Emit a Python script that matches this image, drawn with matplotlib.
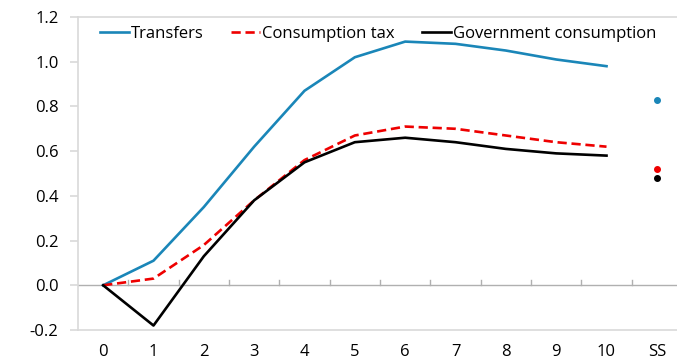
import matplotlib
matplotlib.use("Agg")
import matplotlib.pyplot as plt
import numpy as np

# x categories: periods 0..10 plus steady state
periods = ['0', '1', '2', '3', '4', '5', '6', '7', '8', '9', '10']
ss_label = 'SS'

transfers = [0.0, 0.11, 0.35, 0.62, 0.87, 1.02, 1.09, 1.08, 1.05, 1.01, 0.98]
consumption_tax = [0.0, 0.03, 0.18, 0.38, 0.56, 0.67, 0.71, 0.70, 0.67, 0.64, 0.62]
gov_consumption = [0.0, -0.18, 0.13, 0.38, 0.55, 0.64, 0.66, 0.64, 0.61, 0.59, 0.58]

ss_transfers = 0.83
ss_consumption_tax = 0.52
ss_gov_consumption = 0.48

plt.rcParams['font.family'] = ['Open Sans', 'DejaVu Sans']

fig = plt.figure(figsize=(6.77, 3.64), dpi=100)
ax = fig.add_axes([0.1152, 0.0934, 0.8922, 0.8599])

x = np.arange(len(periods))
x_ss = len(periods)

blue = '#1a86b8'
red = '#ee0000'

ax.plot(x, transfers, color=blue, lw=1.9, label='Transfers')
ax.plot(x, consumption_tax, color=red, lw=1.9, dashes=(3.5, 1.8), label='Consumption tax')
ax.plot(x, gov_consumption, color='black', lw=1.9, label='Government consumption')

ax.plot([x_ss], [ss_transfers], 'o', color=blue, ms=4)
ax.plot([x_ss], [ss_consumption_tax], 'o', color=red, ms=4)
ax.plot([x_ss], [ss_gov_consumption], 'o', color='black', ms=4)

ax.set_xlim(-0.5, x_ss + 0.5)
ax.set_ylim(-0.2, 1.2)

# horizontal axis crossing at zero with tick marks between categories
ax.axhline(0, color='#b0b0b0', lw=1, zorder=0)
for b in np.arange(0.5, x_ss + 0.5, 1.0):
    ax.plot([b, b], [0, 0.025], color='#b0b0b0', lw=1, zorder=0)

# border lines at top and bottom of value range
ax.axhline(1.2, color='#d9d9d9', lw=1.2, zorder=0, clip_on=False)
ax.axhline(-0.2, color='#d9d9d9', lw=1.2, zorder=0, clip_on=False)

for s in ['top', 'right', 'bottom']:
    ax.spines[s].set_visible(False)
ax.spines['left'].set_color('#d9d9d9')
ax.spines['left'].set_linewidth(1.2)

ax.set_yticks(np.arange(-0.2, 1.21, 0.2))
ax.set_yticklabels(['-0.2', '0.0', '0.2', '0.4', '0.6', '0.8', '1.0', '1.2'])
ax.tick_params(axis='y', length=6, width=1.2, color='#d9d9d9', pad=8, labelsize=12)

ax.set_xticks(list(x) + [x_ss])
ax.set_xticklabels(periods + [ss_label])
ax.tick_params(axis='x', length=0, pad=10, labelsize=12)

ax.legend(loc='upper left', bbox_to_anchor=(0.02, 1.004), ncol=3, frameon=False,
          fontsize=12, handlelength=1.75, handletextpad=0.1, columnspacing=1.65,
          borderaxespad=0.2)

fig.savefig('out.png', dpi=100)
